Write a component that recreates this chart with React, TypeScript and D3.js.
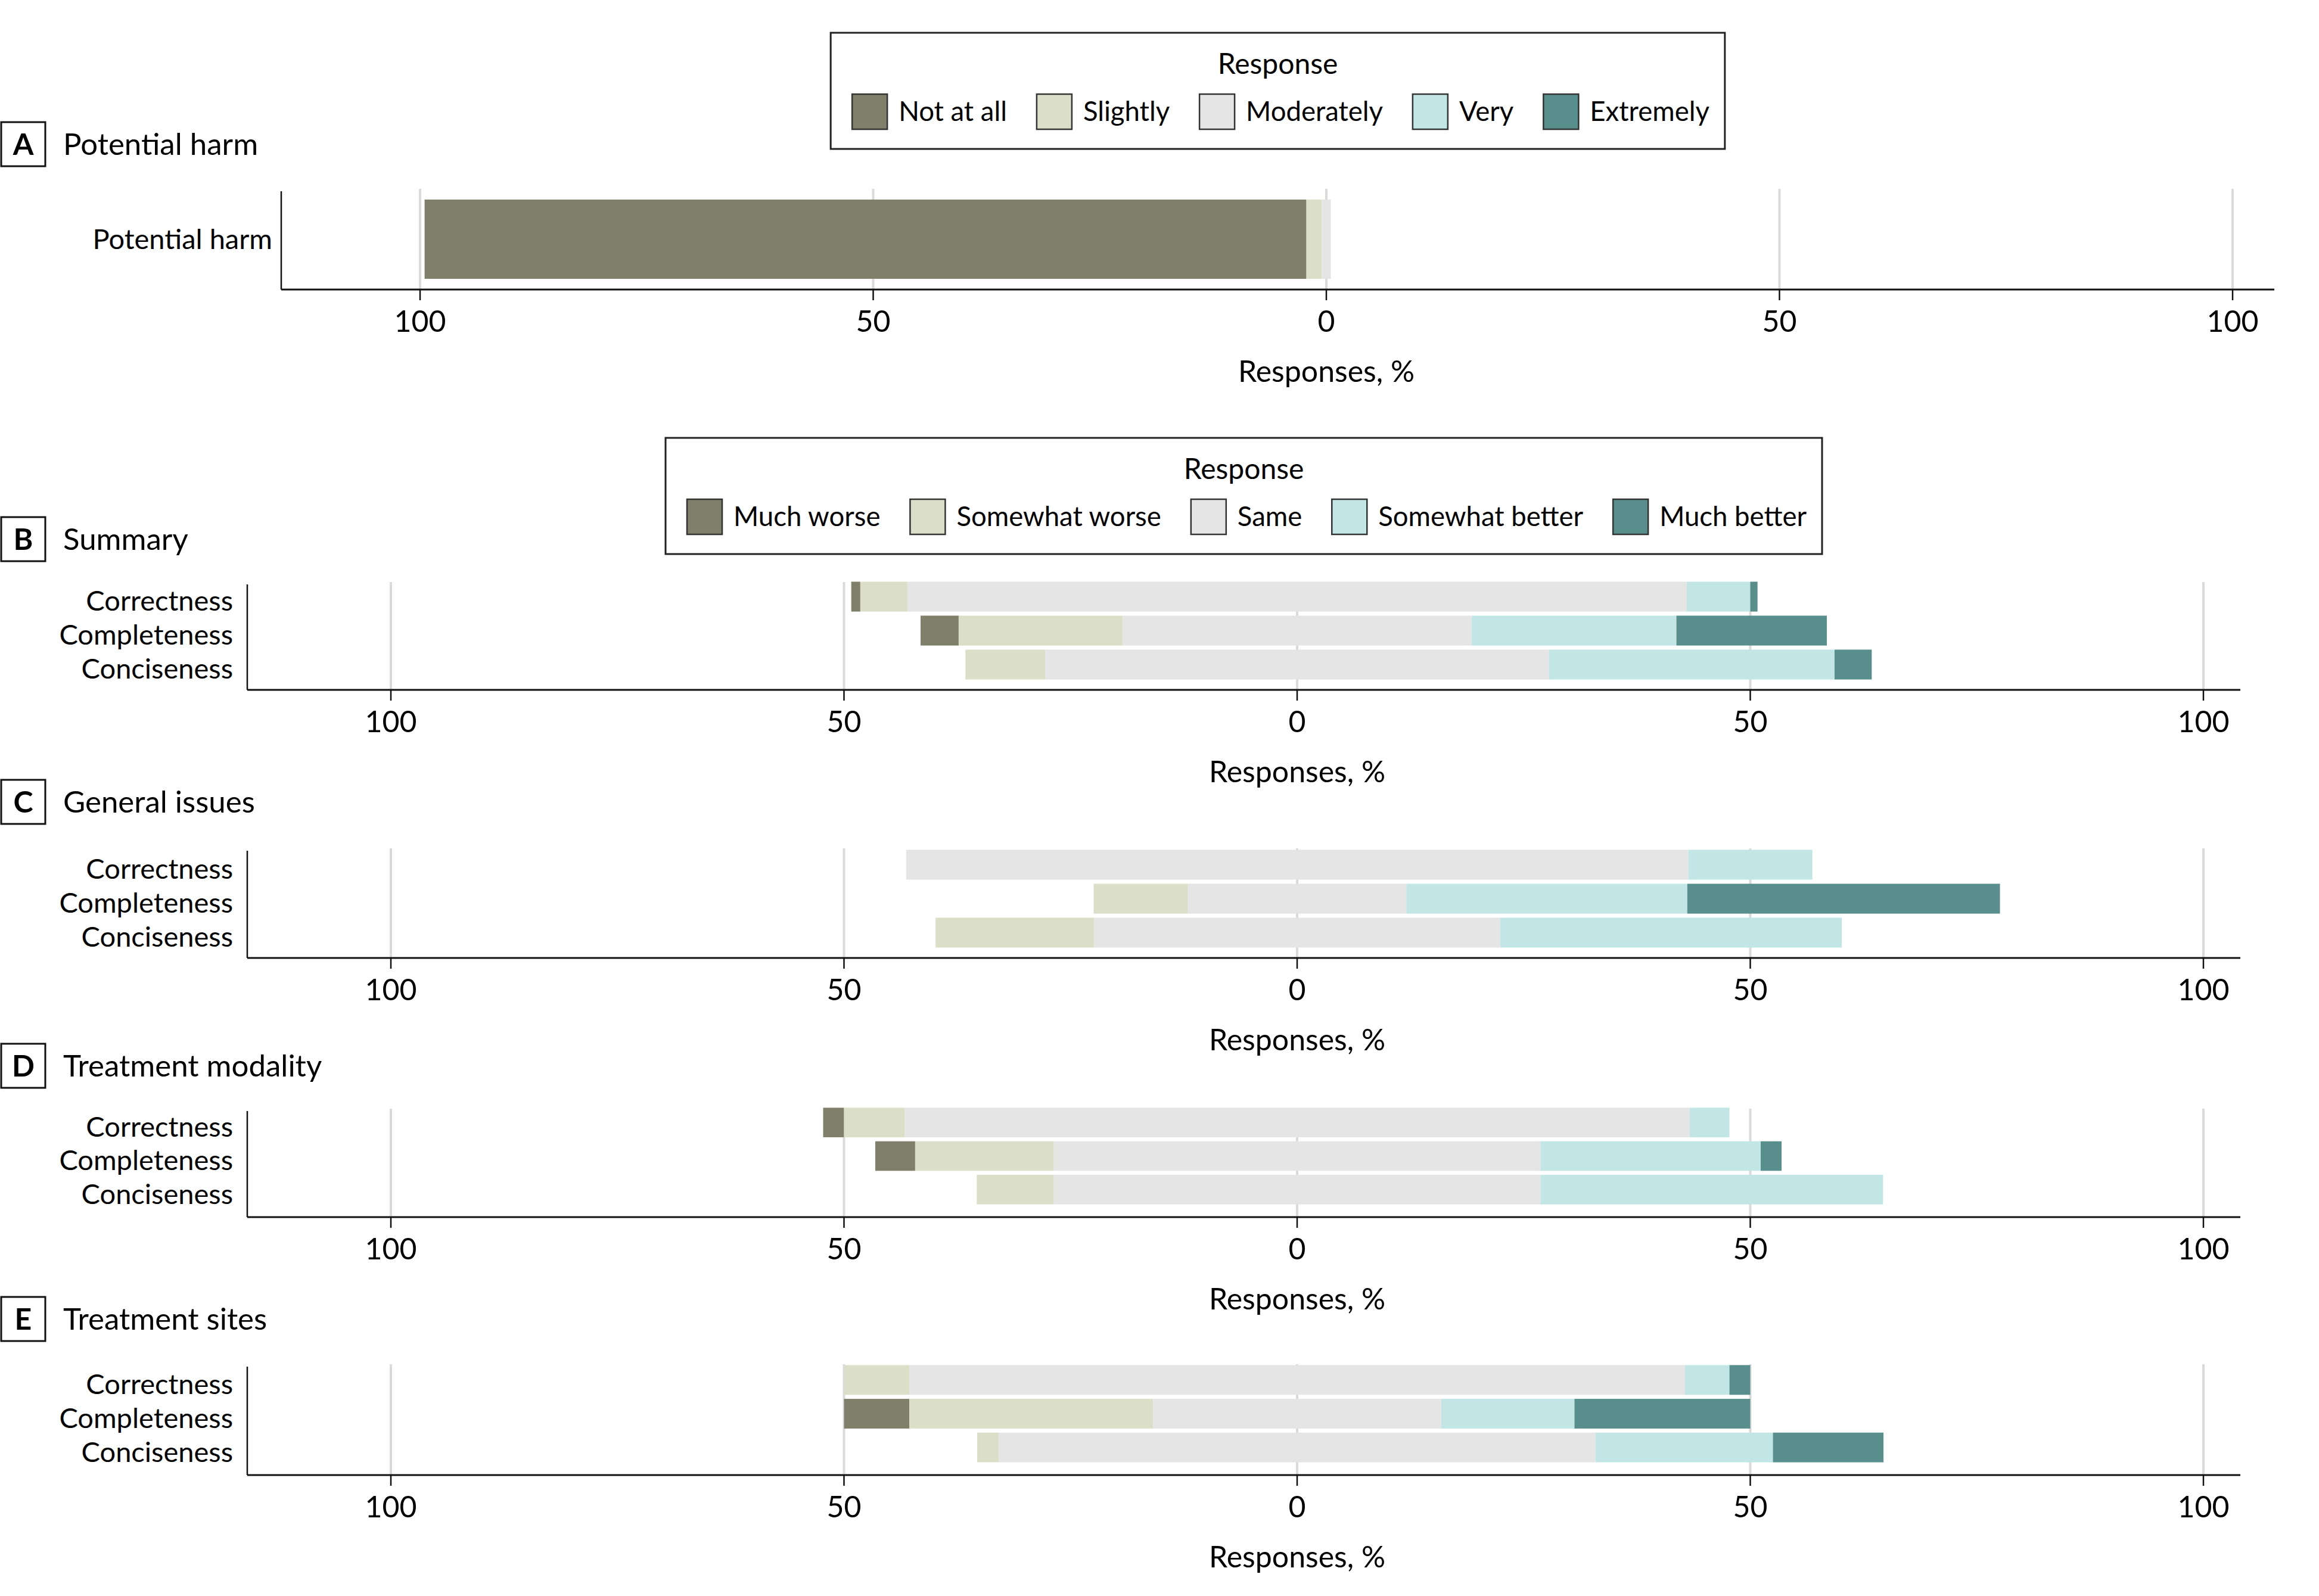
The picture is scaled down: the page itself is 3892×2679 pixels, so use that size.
import React, { useEffect, useRef } from "react";
import * as d3 from "d3";

// Response levels
const harmLevels = ["Not at all", "Slightly", "Moderately", "Very", "Extremely"];
const changeLevels = ["Much worse", "Somewhat worse", "Same", "Somewhat better", "Much better"];

// Rows
const harmRows = ["Potential harm"];
const criteria = ["Correctness", "Completeness", "Conciseness"];

// Axis ticks
const xTicks = [-100, -50, 0, 50, 100];

// Percent of responses per level (rows in the order above)
const harmValues = [[97.3, 1.7, 1.0, 0, 0]];

const summaryValues = [
  [1.0, 5.2, 86.0, 7.0, 0.8],
  [4.2, 18.1, 38.5, 22.6, 16.6],
  [0, 8.8, 55.6, 31.5, 4.1],
];

const generalValues = [
  [0, 0, 86.3, 13.7, 0],
  [0, 10.4, 24.1, 31.0, 34.5],
  [0, 17.5, 44.8, 37.7, 0],
];

const modalityValues = [
  [2.3, 6.7, 86.6, 4.4, 0],
  [4.4, 15.3, 53.7, 24.3, 2.3],
  [0, 8.5, 53.7, 37.8, 0],
];

const sitesValues = [
  [0, 7.2, 85.6, 4.9, 2.3],
  [7.2, 26.9, 31.8, 14.7, 19.4],
  [0, 2.4, 65.8, 19.6, 12.2],
];

const colors = ["#807f6a", "#dbdfc8", "#e5e5e5", "#c1e6e5", "#588e8b"];

const W = 3892;
const H = 2679;
const FONT = "Lato, 'Liberation Sans', sans-serif";

interface Panel {
  letter: string;
  title: string;
  rows: string[];
  values: number[][];
  levels: string[];
  axisY: number;
  labelY: number;
  axisLeft: number;
  axisRight: number;
  xRange: [number, number];
  band: [number, number];
  pad: number;
  gridTop: number;
  legendTop?: number;
}

const panels: Panel[] = [
  {
    letter: "A", title: "Potential harm", rows: harmRows, values: harmValues, levels: harmLevels,
    axisY: 486, labelY: 242, axisLeft: 472, axisRight: 3817, xRange: [705, 3747],
    band: [-151, -18], pad: 0, gridTop: -169, legendTop: 55,
  },
  {
    letter: "B", title: "Summary", rows: criteria, values: summaryValues, levels: changeLevels,
    axisY: 1158, labelY: 905, axisLeft: 415, axisRight: 3760, xRange: [656, 3698],
    band: [-185, -14], pad: 0.12, gridTop: -181, legendTop: 735,
  },
  {
    letter: "C", title: "General issues", rows: criteria, values: generalValues, levels: changeLevels,
    axisY: 1608, labelY: 1346, axisLeft: 415, axisRight: 3760, xRange: [656, 3698],
    band: [-185, -14], pad: 0.12, gridTop: -184,
  },
  {
    letter: "D", title: "Treatment modality", rows: criteria, values: modalityValues, levels: changeLevels,
    axisY: 2043, labelY: 1789, axisLeft: 415, axisRight: 3760, xRange: [656, 3698],
    band: [-187, -18], pad: 0.12, gridTop: -182,
  },
  {
    letter: "E", title: "Treatment sites", rows: criteria, values: sitesValues, levels: changeLevels,
    axisY: 2476, labelY: 2214, axisLeft: 415, axisRight: 3760, xRange: [656, 3698],
    band: [-188, -18], pad: 0.12, gridTop: -186,
  },
];

const App: React.FC = () => {
  const svgRef = useRef<SVGSVGElement>(null);

  useEffect(() => {
    if (!svgRef.current) return;
    const svg = d3.select(svgRef.current);
    svg.selectAll("*").remove();

    svg.append("rect").attr("width", W).attr("height", H).attr("fill", "#fff");

    panels.forEach((p) => {
      const g = svg.append("g").attr("font-family", FONT);

      const x = d3.scaleLinear().domain([-100, 100]).range(p.xRange);
      const y = d3.scaleBand<string>()
        .domain(p.rows)
        .range([p.axisY + p.band[0], p.axisY + p.band[1]])
        .paddingInner(p.pad)
        .paddingOuter(p.pad / 2);

      // gridlines
      g.selectAll(".grid")
        .data(xTicks)
        .enter().append("line")
        .attr("x1", (d) => x(d))
        .attr("x2", (d) => x(d))
        .attr("y1", p.axisY + p.gridTop)
        .attr("y2", p.axisY)
        .attr("stroke", "#dadada")
        .attr("stroke-width", 4);

      // diverging stacked bars, middle level centred on zero
      p.values.forEach((vals, i) => {
        let start = -(vals[0] + vals[1] + vals[2] / 2);
        const segs = vals.map((v, k) => {
          const s = { x0: start, x1: start + v, k };
          start += v;
          return s;
        });
        g.selectAll(`.bar-${i}`)
          .data(segs.filter((s) => s.x1 > s.x0))
          .enter().append("rect")
          .attr("x", (s) => x(s.x0))
          .attr("width", (s) => x(s.x1) - x(s.x0))
          .attr("y", y(p.rows[i]) as number)
          .attr("height", y.bandwidth())
          .attr("fill", (s) => colors[s.k]);
      });

      // y axis line
      g.append("line")
        .attr("x1", p.axisLeft).attr("x2", p.axisLeft)
        .attr("y1", p.axisY + p.gridTop + 4).attr("y2", p.axisY)
        .attr("stroke", "#111").attr("stroke-width", 2.5);

      // x axis line
      g.append("line")
        .attr("x1", p.axisLeft).attr("x2", p.axisRight)
        .attr("y1", p.axisY).attr("y2", p.axisY)
        .attr("stroke", "#111").attr("stroke-width", 3);

      // ticks + labels
      g.selectAll(".tick")
        .data(xTicks)
        .enter().append("line")
        .attr("x1", (d) => x(d)).attr("x2", (d) => x(d))
        .attr("y1", p.axisY).attr("y2", p.axisY + 18)
        .attr("stroke", "#111").attr("stroke-width", 2.5);

      g.selectAll(".tickLabel")
        .data(xTicks)
        .enter().append("text")
        .attr("x", (d) => x(d))
        .attr("y", p.axisY + 71)
        .attr("text-anchor", "middle")
        .attr("font-size", 50)
        .text((d) => Math.abs(d));

      g.append("text")
        .attr("x", x(0))
        .attr("y", p.axisY + 155)
        .attr("text-anchor", "middle")
        .attr("font-size", 50)
        .text("Responses, %");

      // row labels
      g.selectAll(".rowLabel")
        .data(p.rows)
        .enter().append("text")
        .attr("x", p.axisLeft - (p.rows.length > 1 ? 24 : 15))
        .attr("y", (d) => (y(d) as number) + y.bandwidth() / 2 + (p.rows.length > 1 ? 7 : 0))
        .attr("dy", "0.36em")
        .attr("text-anchor", "end")
        .attr("font-size", 47)
        .text((d) => d);

      // panel letter + title
      g.append("rect")
        .attr("x", 2).attr("y", p.labelY - 37)
        .attr("width", 74).attr("height", 74)
        .attr("fill", "none").attr("stroke", "#111").attr("stroke-width", 3);
      g.append("text")
        .attr("x", 39).attr("y", p.labelY).attr("dy", "0.36em")
        .attr("text-anchor", "middle")
        .attr("font-size", 50).attr("font-weight", "bold")
        .text(p.letter);
      g.append("text")
        .attr("x", 106).attr("y", p.labelY).attr("dy", "0.36em")
        .attr("font-size", 51)
        .text(p.title);

      // legend
      if (p.legendTop !== undefined) {
        const top = p.legendTop;
        const lg = g.append("g");
        const box = lg.append("rect")
          .attr("y", top).attr("height", 195)
          .attr("fill", "#fff").attr("stroke", "#222").attr("stroke-width", 3);
        const items = lg.append("g");
        let cx = 0;
        p.levels.forEach((lvl, k) => {
          items.append("rect")
            .attr("x", cx).attr("y", top + 103)
            .attr("width", 59).attr("height", 59)
            .attr("fill", colors[k]).attr("stroke", "#333").attr("stroke-width", 2.5);
          const t = items.append("text")
            .attr("x", cx + 78).attr("y", top + 132).attr("dy", "0.36em")
            .attr("font-size", 45.5)
            .text(lvl);
          const tw = (t.node() as SVGTextElement).getComputedTextLength();
          cx += 78 + tw + (k < p.levels.length - 1 ? 50 : 0);
        });
        const boxW = 36 + cx + 26;
        const center = (p.axisLeft + p.axisRight) / 2;
        const bx = center - boxW / 2;
        box.attr("x", bx).attr("width", boxW);
        items.attr("transform", `translate(${bx + 36},0)`);
        lg.append("text")
          .attr("x", center).attr("y", top + 52).attr("dy", "0.36em")
          .attr("text-anchor", "middle")
          .attr("font-size", 48)
          .text("Response");
      }
    });
  }, []);

  return (
    <svg
      ref={svgRef}
      width={W}
      height={H}
      style={{ position: "absolute", left: 0, top: 0 }}
    />
  );
};

export default App;
